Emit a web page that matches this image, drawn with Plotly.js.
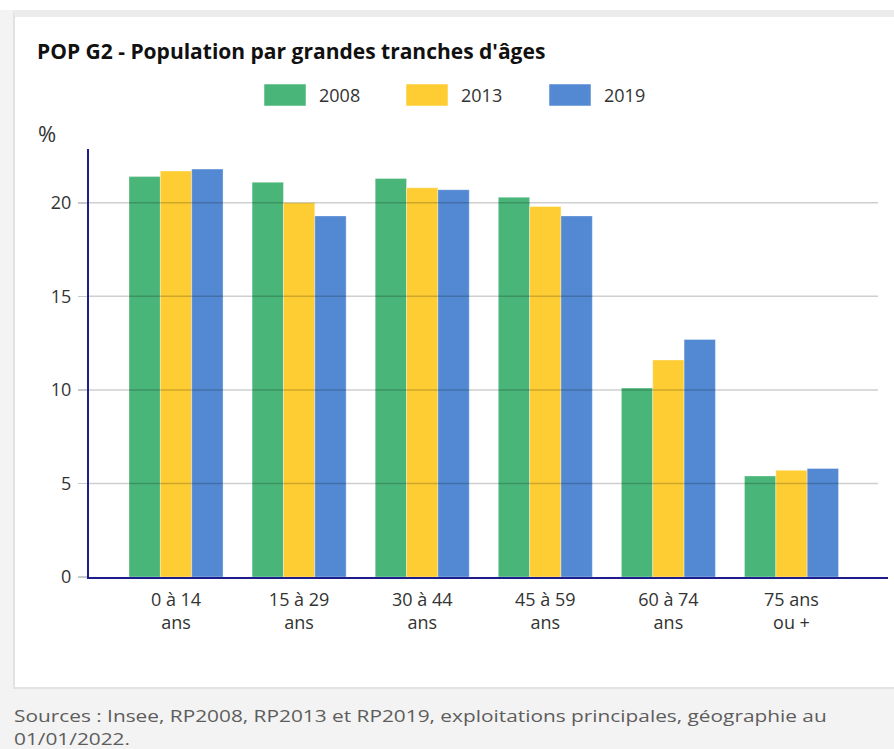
<!DOCTYPE html>
<html>
<head>
<meta charset="utf-8">
<script src="https://cdn.plot.ly/plotly-3.0.1.min.js"></script>
<style>
  html, body { margin: 0; padding: 0; }
  body { width: 894px; height: 749px; overflow: hidden; background: #f3f3f3; position: relative; font-family: "Open Sans", sans-serif; }
  #topstrip { position: absolute; left: 0; top: 0; width: 894px; height: 10px; background: #ffffff; }
  #frame { position: absolute; left: 13px; top: 10px; width: 900px; height: 670px; background: #ffffff;
           border-top: 7px solid #ececec; border-left: 2px solid #e2e2e2; border-bottom: 2px solid #e2e2e2; }
  #chart { position: absolute; left: 0; top: 0; width: 894px; height: 749px; }
  #sources { position: absolute; left: 14px; top: 704px; white-space: nowrap; font-size: 17px; line-height: 23px; color: #5d5d5d;
             transform: scaleX(1.225); transform-origin: 0 0; }
</style>
</head>
<body>
<div id="topstrip"></div>
<div id="frame"></div>
<div id="chart"></div>
<div id="sources">Sources : Insee, RP2008, RP2013 et RP2019, exploitations principales, géographie au<br>01/01/2022.</div>
<script>
// Age groups (two-line labels) and the share of population in each, by census year
const categories = ["0 à 14<br>ans", "15 à 29<br>ans", "30 à 44<br>ans", "45 à 59<br>ans", "60 à 74<br>ans", "75 ans<br>ou +"];
const years = ["2008", "2013", "2019"];
const values2008 = [21.4, 21.1, 21.3, 20.3, 10.1, 5.4];
const values2013 = [21.7, 20.0, 20.8, 19.8, 11.6, 5.7];
const values2019 = [21.8, 19.3, 20.7, 19.3, 12.7, 5.8];
const yTicks = [0, 5, 10, 15, 20];
const colors = ["#49b579", "#fecd33", "#5289d2"];

const series = [values2008, values2013, values2019];

// Plot area in pixels
const W = 894, H = 749;
const L = 89, R = 888, T = 149, B = 577;
const gridEnd = 878;
const px2x = p => (p - L) / (R - L);
const py2y = p => (B - p) / (B - T);

const traces = series.map((vals, i) => ({
  type: "bar",
  name: years[i],
  x: categories,
  y: vals,
  marker: { color: colors[i], line: { color: "rgba(255,255,255,0.35)", width: 1 } },
  hoverinfo: "x+y+name",
  showlegend: false
}));

// Gridlines drawn over the bars, one per tick value
const shapes = yTicks.filter(v => v > 0).map(v => ({
  type: "line", layer: "above",
  xref: "paper", yref: "y",
  x0: 0, x1: px2x(gridEnd), y0: v, y1: v,
  line: { color: "rgba(0,0,0,0.19)", width: 1.5 }
}));

// Custom legend: wide colour swatches with the year beside them
const legendLeft = [264, 406, 549];
const annotations = [];
years.forEach((yr, i) => {
  shapes.push({
    type: "rect", layer: "above", xref: "paper", yref: "paper",
    x0: px2x(legendLeft[i]), x1: px2x(legendLeft[i] + 42),
    y0: py2y(106), y1: py2y(84),
    fillcolor: colors[i], line: { color: "rgba(255,255,255,0.5)", width: 1 }
  });
  annotations.push({
    xref: "paper", yref: "paper",
    x: px2x(legendLeft[i] + 53), y: py2y(95),
    xanchor: "left", yanchor: "middle",
    text: yr, showarrow: false,
    font: { family: "Open Sans", size: 18, color: "#333333" }
  });
});

// Unit label above the value axis
annotations.push({
  xref: "paper", yref: "paper",
  x: px2x(36), y: py2y(133),
  xanchor: "left", yanchor: "middle",
  text: "%", showarrow: false,
  font: { family: "Open Sans", size: 22, color: "#333333" }
});

const layout = {
  width: W, height: H,
  margin: { l: L, r: W - R, t: T, b: H - B, pad: 0 },
  paper_bgcolor: "rgba(0,0,0,0)",
  plot_bgcolor: "rgba(0,0,0,0)",
  font: { family: "Open Sans", size: 18, color: "#333333" },
  title: {
    text: "<b>POP G2 - Population par grandes tranches d'âges</b>",
    xref: "container", yref: "container",
    x: 37 / W, xanchor: "left",
    y: 1 - 52 / H, yanchor: "middle",
    font: { family: "Open Sans", size: 21, color: "#111111" }
  },
  barmode: "group",
  bargap: 0.236,
  bargroupgap: 0,
  xaxis: {
    type: "category",
    range: [-0.707, 5.784],
    showline: true, linecolor: "#1d1d8c", linewidth: 2,
    ticks: "", showgrid: false, zeroline: false,
    ticklabelstandoff: 5,
    tickfont: { family: "Open Sans", size: 18, color: "#333333" },
    layer: "above traces",
    fixedrange: true
  },
  yaxis: {
    range: [0, (B - T) / 18.71],
    tickvals: yTicks,
    ticktext: yTicks.map(String),
    showline: true, linecolor: "#1d1d8c", linewidth: 2,
    ticks: "outside", ticklen: 9, tickcolor: "#c9c9c9", tickwidth: 1.5,
    ticklabelstandoff: 3,
    showgrid: false, zeroline: false,
    tickfont: { family: "Open Sans", size: 18, color: "#333333" },
    layer: "above traces",
    fixedrange: true
  },
  shapes: shapes,
  annotations: annotations
};

Plotly.newPlot("chart", traces, layout, { displayModeBar: false, staticPlot: true });
</script>
</body>
</html>
